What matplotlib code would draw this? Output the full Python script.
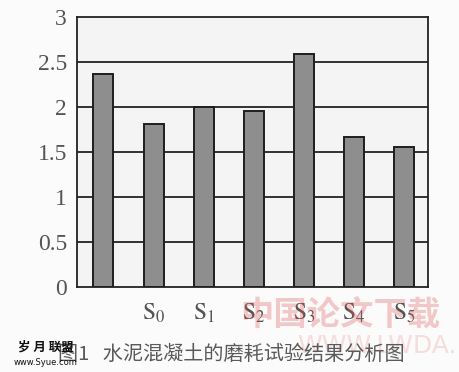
import matplotlib
matplotlib.use("Agg")
import matplotlib.pyplot as plt

categories = ["", "S0", "S1", "S2", "S3", "S4", "S5"]
tick_labels = ["", r"$\mathrm{S}_0$", r"$\mathrm{S}_1$", r"$\mathrm{S}_2$", r"$\mathrm{S}_3$", r"$\mathrm{S}_4$", r"$\mathrm{S}_5$"]
values = [2.37, 1.81, 2.00, 1.96, 2.59, 1.67, 1.56]
y_ticks = [0, 0.5, 1, 1.5, 2, 2.5, 3]
y_tick_labels = ["0", "0.5", "1", "1.5", "2", "2.5", "3"]
caption = "图1   水泥混凝土的磨耗试验结果分析图"

plt.rcParams['mathtext.fontset'] = 'stix'

fig = plt.figure(figsize=(4.6, 3.72), dpi=100)
fig.patch.set_facecolor("#fbfbfb")
ax = fig.add_axes([0.167, 0.2285, 0.763, 0.726])
ax.set_facecolor("#f4f4f4")

x = list(range(len(categories)))
ax.bar(x, values, width=0.4, color="#8e8e8e", edgecolor="#1e1e1e", linewidth=1.4, zorder=3)
for yv in y_ticks[1:-1]:
    ax.axhline(yv, color="#222222", linewidth=1.3, zorder=1)

ax.set_xlim(-0.53, 6.47)
ax.set_ylim(0, 3)
ax.set_yticks(y_ticks)
ax.set_yticklabels(y_tick_labels, fontfamily="Liberation Serif", fontsize=17, color="#555555")
ax.set_xticks(x)
ax.set_xticklabels(tick_labels, fontsize=17, color="#555555")
ax.tick_params(axis="both", length=0)
ax.tick_params(axis="y", pad=7)
ax.tick_params(axis="x", pad=10)
for s in ax.spines.values():
    s.set_color("#222222")
    s.set_linewidth(1.3)

fig.text(0.127, 0.046, caption, ha="left", va="center", fontsize=14.5,
         fontfamily=["Noto Sans CJK SC", "DejaVu Sans"], color="#5a5a5a")

# watermarks
fig.text(0.74, 0.15, "中国论文下载", ha="center", va="center", fontsize=24, fontweight="bold",
         fontfamily=["Noto Sans CJK SC", "DejaVu Sans"], color="#e05050", alpha=0.3, zorder=0)
fig.text(0.82, 0.07, "WWW.LWDA.", ha="center", va="center", fontsize=18,
         fontfamily=["DejaVu Sans"], color="#e05050", alpha=0.18, zorder=0)
fig.text(0.1, 0.068, "岁 月 联盟", ha="center", va="center", fontsize=9, fontweight="bold",
         fontfamily=["Noto Sans CJK SC", "DejaVu Sans"], color="#111111")
fig.text(0.1, 0.025, "www.Syue.com", ha="center", va="center", fontsize=6,
         fontfamily=["DejaVu Sans"], color="#111111")

fig.savefig("out.png", dpi=100, facecolor=fig.get_facecolor())
